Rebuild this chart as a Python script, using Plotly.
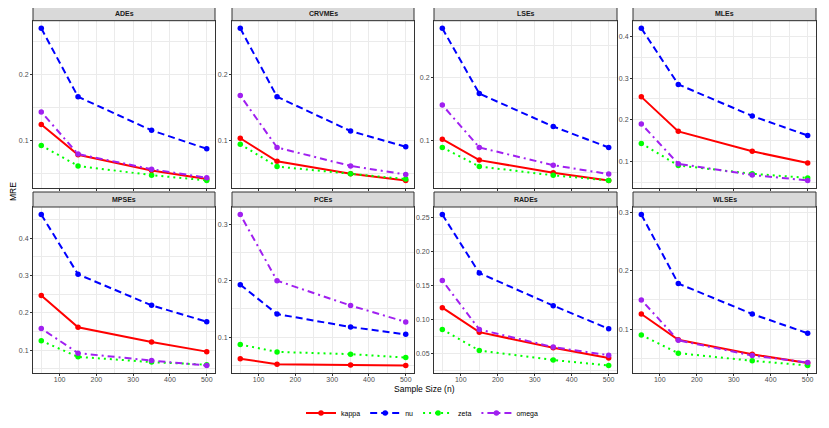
import plotly.graph_objects as go
from plotly.subplots import make_subplots

sample_sizes = [50, 150, 350, 500]
estimators = ["ADEs", "CRVMEs", "LSEs", "MLEs", "MPSEs", "PCEs", "RADEs", "WLSEs"]

# MRE per estimator (same order as estimators), one list per parameter
kappa = [
    [0.124, 0.078, 0.054, 0.041],
    [0.103, 0.068, 0.049, 0.039],
    [0.102, 0.069, 0.049, 0.037],
    [0.255, 0.172, 0.124, 0.096],
    [0.246, 0.161, 0.122, 0.096],
    [0.062, 0.052, 0.051, 0.050],
    [0.118, 0.082, 0.059, 0.044],
    [0.126, 0.082, 0.057, 0.042],
]
nu = [
    [0.270, 0.166, 0.115, 0.087],
    [0.270, 0.166, 0.114, 0.090],
    [0.277, 0.174, 0.122, 0.089],
    [0.420, 0.285, 0.209, 0.162],
    [0.463, 0.303, 0.220, 0.176],
    [0.193, 0.141, 0.118, 0.105],
    [0.255, 0.169, 0.121, 0.087],
    [0.296, 0.178, 0.126, 0.093],
]
zeta = [
    [0.092, 0.061, 0.047, 0.039],
    [0.094, 0.060, 0.049, 0.041],
    [0.089, 0.059, 0.045, 0.037],
    [0.143, 0.090, 0.070, 0.060],
    [0.125, 0.082, 0.068, 0.061],
    [0.087, 0.074, 0.070, 0.064],
    [0.086, 0.055, 0.041, 0.033],
    [0.090, 0.059, 0.046, 0.038],
]
omega = [
    [0.143, 0.079, 0.056, 0.043],
    [0.168, 0.089, 0.061, 0.048],
    [0.156, 0.089, 0.061, 0.047],
    [0.190, 0.094, 0.067, 0.054],
    [0.158, 0.092, 0.072, 0.059],
    [0.317, 0.200, 0.156, 0.127],
    [0.158, 0.086, 0.060, 0.048],
    [0.150, 0.081, 0.055, 0.043],
]
y_dtick = [0.1, 0.1, 0.1, 0.1, 0.1, 0.1, 0.05, 0.1]

series = [
    ("kappa", kappa, "#FF0000", "solid"),
    ("nu", nu, "#0000FF", "7px,4px"),
    ("zeta", zeta, "#00FF00", "2px,4px"),
    ("omega", omega, "#A020F0", "2px,4px,7px,4px"),
]

W, H = 829, 428
OFF = 8  # the page body has an 8px margin, so pull everything back by that much


def px_x(v):
    return (v - OFF) / W


def px_y(v):
    return 1 - (v - OFF) / H


col_px = [(33, 215), (232, 414), (434, 617), (633, 816)]
row_px = [(20.7, 188), (207, 373)]
strip_px = [(7.3, 20.7), (192, 207)]

fig = make_subplots(rows=2, cols=4)

for i, est in enumerate(estimators):
    r, c = i // 4 + 1, i % 4 + 1
    # lines first, then points (like geom_line + geom_point)
    for name, vals, color, dash in series:
        fig.add_trace(go.Scatter(
            x=sample_sizes, y=vals[i], mode="lines",
            line=dict(color=color, width=2, dash=dash),
            showlegend=False, hoverinfo="skip",
        ), row=r, col=c)
    for name, vals, color, dash in series:
        fig.add_trace(go.Scatter(
            x=sample_sizes, y=vals[i], mode="markers", name=name,
            marker=dict(color=color, size=5.5),
            showlegend=False,
        ), row=r, col=c)

    allv = [v for _, vals, _, _ in series for v in vals[i]]
    lo, hi = min(allv), max(allv)
    pad = 0.05 * (hi - lo)
    x0, x1 = col_px[c - 1]
    y0, y1 = row_px[r - 1]
    fig.update_xaxes(
        domain=[px_x(x0), px_x(x1)], range=[27.5, 522.5],
        tick0=0, dtick=100, showticklabels=(r == 2),
        minor=dict(dtick=50, tick0=0, showgrid=True, gridcolor="#EBEBEB", gridwidth=0.6),
        row=r, col=c,
    )
    fig.update_yaxes(
        domain=[px_y(y1), px_y(y0)], range=[lo - pad, hi + pad],
        tick0=0, dtick=y_dtick[i], tickformat=".2f" if y_dtick[i] < 0.1 else "",
        minor=dict(dtick=y_dtick[i] / 2, tick0=0, showgrid=True, gridcolor="#EBEBEB", gridwidth=0.6),
        row=r, col=c,
    )
    sy0, sy1 = strip_px[r - 1]
    fig.add_shape(type="rect", xref="paper", yref="paper",
                  x0=px_x(x0), x1=px_x(x1), y0=px_y(sy1), y1=px_y(sy0),
                  fillcolor="#D9D9D9", line=dict(color="#333333", width=1))
    fig.add_annotation(text="<b>%s</b>" % est, xref="paper", yref="paper",
                       x=px_x((x0 + x1) / 2), y=px_y((sy0 + sy1) / 2),
                       xanchor="center", yanchor="middle",
                       showarrow=False, font=dict(size=7, color="#1A1A1A"))

fig.update_xaxes(showgrid=True, gridcolor="#EBEBEB", gridwidth=1, zeroline=False,
                 showline=True, mirror=True, linecolor="#333333", linewidth=1,
                 ticks="outside", ticklen=2, tickcolor="#333333", automargin=False,
                 ticklabelstandoff=-2,
                 tickfont=dict(size=7, color="#4D4D4D"))
fig.update_yaxes(showgrid=True, gridcolor="#EBEBEB", gridwidth=1, zeroline=False,
                 showline=True, mirror=True, linecolor="#333333", linewidth=1,
                 ticks="outside", ticklen=2, tickcolor="#333333", automargin=False,
                 tickfont=dict(size=7, color="#4D4D4D"))

# legend entries
for name, vals, color, dash in series:
    fig.add_trace(go.Scatter(
        x=[None], y=[None], mode="lines+markers", name=name,
        line=dict(color=color, width=2, dash=dash),
        marker=dict(color=color, size=5.5),
    ), row=1, col=1)

fig.add_annotation(text="Sample Size (n)", xref="paper", yref="paper",
                   x=px_x(424), y=px_y(389), xanchor="center", yanchor="middle",
                   showarrow=False, font=dict(size=8.5, color="black"))
fig.add_annotation(text="MRE", xref="paper", yref="paper",
                   x=px_x(13), y=px_y(192), xanchor="center", yanchor="middle",
                   showarrow=False, textangle=-90,
                   font=dict(size=8.5, color="black"))

fig.update_layout(
    width=W, height=H,
    margin=dict(l=0, r=0, t=0, b=0),
    paper_bgcolor="white", plot_bgcolor="white",
    font=dict(family="Liberation Sans, Arial, sans-serif", size=7, color="black"),
    showlegend=True,
    legend=dict(orientation="h", x=px_x(422), xanchor="center", y=px_y(413), yanchor="middle",
                font=dict(size=7), itemwidth=30, tracegroupgap=0),
)

fig.write_html("out.html")
